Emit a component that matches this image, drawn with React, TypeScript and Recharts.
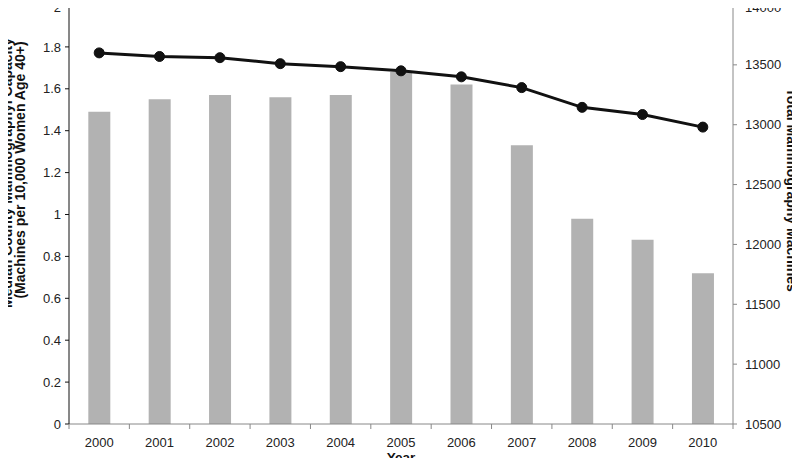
import { Bar, ComposedChart, Line, XAxis, YAxis, Label } from "recharts";

const years = ["2000", "2001", "2002", "2003", "2004", "2005", "2006", "2007", "2008", "2009", "2010"];
const capacity = [1.49, 1.55, 1.57, 1.56, 1.57, 1.68, 1.62, 1.33, 0.98, 0.88, 0.72];
const machines = [13600, 13570, 13560, 13510, 13485, 13450, 13400, 13310, 13145, 13085, 12980];

const leftTicks = [0, 0.2, 0.4, 0.6, 0.8, 1, 1.2, 1.4, 1.6, 1.8, 2];
const rightTicks = [10500, 11000, 11500, 12000, 12500, 13000, 13500, 14000];

const data = years.map((year, i) => ({ year, capacity: capacity[i], machines: machines[i] }));

const font = "'Liberation Sans', Arial, sans-serif";
const tickStyle = { fontSize: 13, fill: "#222", fontFamily: font };

const YearTick = (props: any) => {
  const { x, y, payload, index } = props;
  const half = payload.offset || 0;
  return (
    <g>
      <line x1={x - half} x2={x - half} y1={y - 8} y2={y - 3} stroke="#888" />
      {index === years.length - 1 && (
        <line x1={x + half} x2={x + half} y1={y - 8} y2={y - 3} stroke="#888" />
      )}
      <text x={x} y={y + 10} dy="0.35em" textAnchor="middle" {...tickStyle}>
        {payload.value}
      </text>
    </g>
  );
};

// keeps the topmost label inside the picture
const ValueTick = (props: any) => {
  const { x, y, payload, textAnchor } = props;
  return (
    <text x={x} y={Math.max(y, 7.5)} dy="0.355em" textAnchor={textAnchor} {...tickStyle}>
      {String(payload.value)}
    </text>
  );
};

const titleProps = { fontFamily: font, fontSize: 14, fontWeight: "bold", fill: "#111", textAnchor: "middle" as const, dy: "0.35em" };

const LeftTitle = () => (
  <g>
    <text x={7} y={173} transform="rotate(-90 7 173)" {...titleProps}>
      Median County Mammographyl Capacity
    </text>
    <text x={20.5} y={170} transform="rotate(-90 20.5 170)" {...titleProps}>
      (Machines per 10,000 Women Age 40+)
    </text>
  </g>
);

const RightTitle = () => (
  <text x={792} y={190} transform="rotate(90 792 190)" {...titleProps}>
    Total Mammography Machines
  </text>
);

const App = () => (
  <div style={{ margin: -8, width: 800, height: 466, background: "#fff" }}>
    <ComposedChart width={800} height={466} data={data} barCategoryGap="32%" margin={{ top: 5, right: 7, bottom: 12, left: 9 }}>
      <XAxis dataKey="year" height={30} axisLine={{ stroke: "#888" }} tickLine={false} tick={<YearTick />} interval={0}>
        <Label
          content={() => (
            <text x={401} y={457} {...titleProps} fontSize={13.5}>
              Year
            </text>
          )}
        />
      </XAxis>
      <YAxis
        yAxisId="left"
        width={60}
        domain={[0, 2]}
        ticks={leftTicks}
        axisLine={{ stroke: "#111" }}
        tickLine={{ stroke: "#111" }}
        tickSize={4}
        tickMargin={4}
        tick={<ValueTick />}
        interval={0}
      >
        <Label content={() => <LeftTitle />} />
      </YAxis>
      <YAxis
        yAxisId="right"
        orientation="right"
        width={60}
        domain={[10500, 14000]}
        ticks={rightTicks}
        axisLine={{ stroke: "#888" }}
        tickLine={{ stroke: "#888" }}
        tickSize={4}
        tickMargin={8}
        tick={<ValueTick />}
        interval={0}
      >
        <Label content={() => <RightTitle />} />
      </YAxis>
      <Bar yAxisId="left" dataKey="capacity" fill="#b2b2b2" isAnimationActive={false} />
      <Line
        yAxisId="right"
        dataKey="machines"
        stroke="#111"
        strokeWidth={3}
        dot={{ r: 5, fill: "#111", stroke: "#111", strokeWidth: 1 }}
        isAnimationActive={false}
      />
    </ComposedChart>
  </div>
);

export default App;
